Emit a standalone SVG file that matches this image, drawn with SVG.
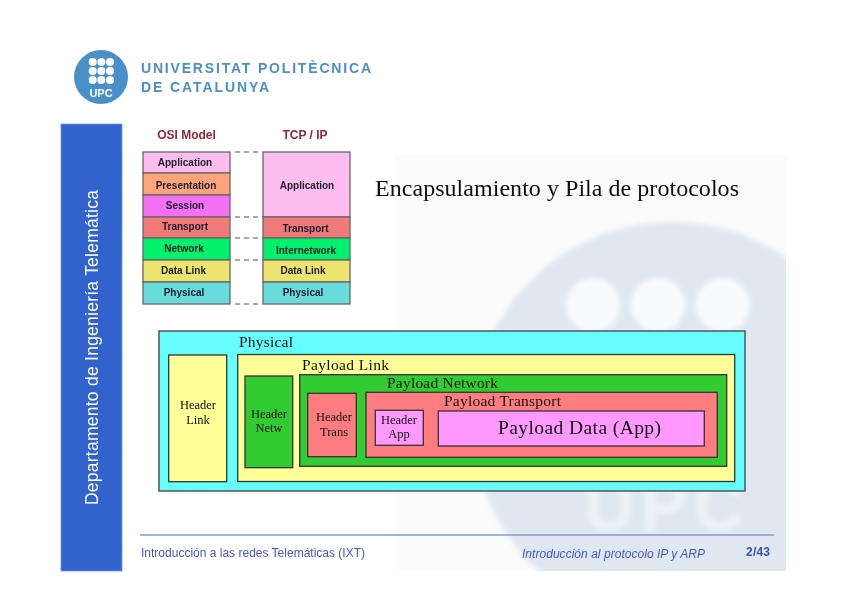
<svg xmlns="http://www.w3.org/2000/svg" width="848" height="599" viewBox="0 0 848 599">
<style>
.s{font-family:"Liberation Sans",Arial,sans-serif}
.t{font-family:"Liberation Serif","Times New Roman",serif;fill:#111}
.o{stroke:#666;stroke-width:1.3}
.l{font-family:"Liberation Sans",Arial,sans-serif;font-weight:700;font-size:10px;fill:#1c1c2c;text-anchor:middle}
.h{font-size:12.5px;text-anchor:middle}
.b{stroke:#333;stroke-width:1.3}
.d{stroke:#555;stroke-width:1.2;stroke-dasharray:5 4;fill:none}
</style>
<defs>
<filter id="soft" x="0" y="0" width="848" height="599" filterUnits="userSpaceOnUse"><feGaussianBlur stdDeviation="0.45"/></filter>
<filter id="wm" x="-10%" y="-10%" width="120%" height="120%"><feGaussianBlur stdDeviation="2.500"/></filter>
<clipPath id="wc"><rect x="395" y="155" width="391" height="416"/></clipPath>
</defs>
<rect width="848" height="599" fill="#fff"/>
<g filter="url(#soft)">
<g id="watermark" clip-path="url(#wc)">
<rect x="395" y="155" width="391" height="416" fill="#fbfbfb"/>
<g filter="url(#wm)">
<circle cx="672" cy="422" r="200" fill="#dfe8f1"/>
<circle cx="593" cy="305" r="27" fill="#f9fafb"/>
<circle cx="658" cy="305" r="27" fill="#f9fafb"/>
<circle cx="723" cy="305" r="27" fill="#f9fafb"/>
<text x="584" y="530" class="s" font-size="70" font-weight="700" fill="#edf2f7" textLength="160" lengthAdjust="spacing">UPC</text>
</g>
</g>
<g id="logo">
<circle cx="101" cy="77" r="27" fill="#4a90c8"/>
<g fill="#fff">
<circle cx="92.700" cy="62" r="4"/><circle cx="101.300" cy="62" r="4"/><circle cx="110" cy="62" r="4"/>
<circle cx="92.700" cy="71" r="4"/><circle cx="101.300" cy="71" r="4"/><circle cx="110" cy="71" r="4"/>
<circle cx="92.700" cy="80" r="4"/><circle cx="101.300" cy="80" r="4"/><circle cx="110" cy="80" r="4"/>
</g>
<text x="101" y="97" class="s" font-size="11" font-weight="700" fill="#fff" text-anchor="middle">UPC</text>
<text x="141" y="73" class="s" font-size="14" font-weight="700" fill="#4a90c8" textLength="230" lengthAdjust="spacing">UNIVERSITAT POLITÈCNICA</text>
<text x="141" y="91.500" class="s" font-size="14" font-weight="700" fill="#4a90c8" textLength="128" lengthAdjust="spacing">DE CATALUNYA</text>
</g>
<g id="sidebar">
<rect x="61" y="124" width="61" height="447" fill="#3063cc" stroke="#6c9be6" stroke-width="0.800"/>
<text transform="translate(98 505) rotate(-90)" class="s" font-size="17.500" fill="#fff" textLength="315" lengthAdjust="spacing">Departamento de Ingeniería Telemática</text>
</g>
<g id="osi-model">
<text x="186.500" y="139" class="s" font-size="12" font-weight="700" fill="#8c2a35" text-anchor="middle">OSI Model</text>
<rect class="o" x="143" y="152" width="87" height="21" fill="#fdbdef"/>
<rect class="o" x="143" y="173" width="87" height="22" fill="#fea47a"/>
<rect class="o" x="143" y="195" width="87" height="22" fill="#f56ff5"/>
<rect class="o" x="143" y="217" width="87" height="21" fill="#f07a7a"/>
<rect class="o" x="143" y="238" width="87" height="22" fill="#00f26c"/>
<rect class="o" x="143" y="260" width="87" height="22" fill="#ebe56f"/>
<rect class="o" x="143" y="282" width="87" height="22" fill="#68dcdc"/>
<text class="l" x="185" y="166">Application</text>
<text class="l" x="186" y="188.500">Presentation</text>
<text class="l" x="185" y="209">Session</text>
<text class="l" x="185" y="230">Transport</text>
<text class="l" x="184" y="252">Network</text>
<text class="l" x="183.500" y="274">Data Link</text>
<text class="l" x="184" y="296">Physical</text>
</g>
<g id="tcp-ip">
<text x="305" y="139" class="s" font-size="12" font-weight="700" fill="#8c2a35" text-anchor="middle">TCP / IP</text>
<rect class="o" x="263" y="152" width="87" height="65" fill="#fdbdef"/>
<rect class="o" x="263" y="217" width="87" height="21" fill="#f07a7a"/>
<rect class="o" x="263" y="238" width="87" height="22" fill="#00f26c"/>
<rect class="o" x="263" y="260" width="87" height="22" fill="#ebe56f"/>
<rect class="o" x="263" y="282" width="87" height="22" fill="#68dcdc"/>
<text class="l" x="307" y="188.500">Application</text>
<text class="l" x="305.500" y="232">Transport</text>
<text class="l" x="306" y="253.500">Internetwork</text>
<text class="l" x="303" y="274">Data Link</text>
<text class="l" x="303" y="296">Physical</text>
</g>
<g id="connectors">
<line class="d" x1="235" y1="152" x2="258" y2="152"/>
<line class="d" x1="235" y1="217" x2="258" y2="217"/>
<line class="d" x1="235" y1="238" x2="258" y2="238"/>
<line class="d" x1="235" y1="260" x2="258" y2="260"/>
<line class="d" x1="235" y1="304" x2="258" y2="304"/>
</g>
<g id="title">
<text x="375" y="196" class="t" font-size="24" textLength="364" lengthAdjust="spacing">Encapsulamiento y Pila de protocolos</text>
</g>
<g id="physical">
<rect x="159" y="331" width="586" height="160" fill="#66ffff" stroke="#555" stroke-width="1.500"/>
<text x="239" y="347" class="t" font-size="15.500" textLength="54" lengthAdjust="spacing">Physical</text>
</g>
<g id="header-link">
<rect class="b" x="168.700" y="355" width="58" height="126.700" fill="#ffff99"/>
<text class="t h" x="198" y="409">Header</text><text class="t h" x="198" y="424.300">Link</text>
</g>
<g id="payload-link">
<rect class="b" x="237.700" y="354.500" width="497" height="127" fill="#ffff99"/>
<text x="302" y="369.500" class="t" font-size="15.500" textLength="87" lengthAdjust="spacing">Payload Link</text>
</g>
<g id="header-netw">
<rect class="b" x="245" y="376" width="47.700" height="91.700" fill="#33cc33"/>
<text class="t h" x="269" y="417.700">Header</text><text class="t h" x="269" y="431.700">Netw</text>
</g>
<g id="payload-network">
<rect class="b" x="299.700" y="374.700" width="427" height="91.600" fill="#33cc33"/>
<text x="387" y="387.700" class="t" font-size="15.500" textLength="111" lengthAdjust="spacing">Payload Network</text>
</g>
<g id="header-trans">
<rect class="b" x="307.700" y="393.300" width="48.600" height="63.400" fill="#ff7c80"/>
<text class="t h" x="334" y="420.700">Header</text><text class="t h" x="334" y="435.700">Trans</text>
</g>
<g id="payload-transport">
<rect class="b" x="366" y="392.300" width="351.300" height="65" fill="#ff7c80"/>
<text x="444" y="405.700" class="t" font-size="15.500" textLength="117" lengthAdjust="spacing">Payload Transport</text>
</g>
<g id="header-app">
<rect class="b" x="375.300" y="410.300" width="48" height="35" fill="#ff99ff"/>
<text class="t h" x="399" y="423.700">Header</text><text class="t h" x="399" y="438.300">App</text>
</g>
<g id="payload-data">
<rect class="b" x="438.300" y="411" width="266" height="35" fill="#ff99ff"/>
<text x="498" y="433.500" class="t" font-size="19.500" textLength="163" lengthAdjust="spacing">Payload Data (App)</text>
</g>
<g id="footer">
<line x1="140" y1="535" x2="774" y2="535" stroke="#7f9fc6" stroke-width="1.500"/>
<text x="141" y="557" class="s" font-size="12" fill="#4a55c8" textLength="224" lengthAdjust="spacing">Introducción a las redes Telemáticas (IXT)</text>
<text x="522" y="558" class="s" font-size="12" font-style="italic" fill="#4a55c8" textLength="183" lengthAdjust="spacing">Introducción al protocolo IP y ARP</text>
<text x="746" y="556" class="s" font-size="12" font-weight="700" fill="#3a4fb8" textLength="24" lengthAdjust="spacing">2/43</text>
</g>
</g>
</svg>
